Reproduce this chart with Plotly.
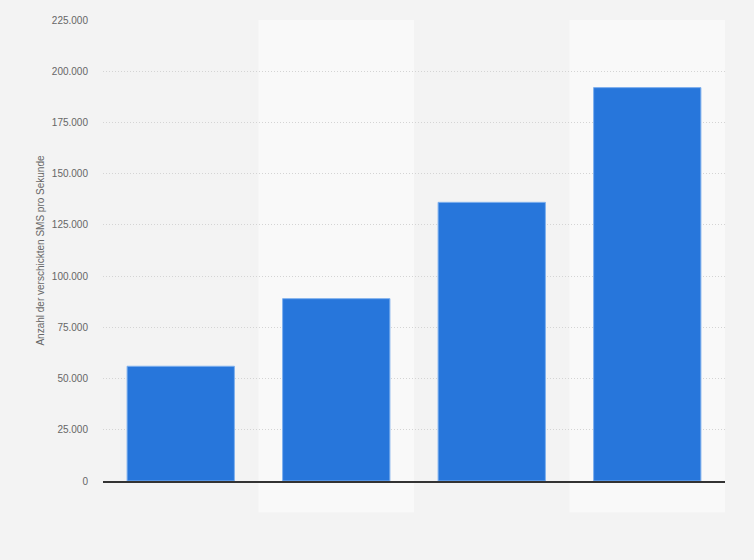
import plotly.graph_objects as go

categories = ["Kategorie 1", "Kategorie 2", "Kategorie 3", "Kategorie 4"]
values = [56000, 89000, 136000, 192000]
y_title = "Anzahl der verschickten SMS pro Sekunde"
tick_vals = [0, 25000, 50000, 75000, 100000, 125000, 150000, 175000, 200000, 225000]

fig = go.Figure()
fig.add_trace(go.Bar(
    x=categories, y=values,
    marker=dict(color="#2776db", line=dict(color="#7fb0ee", width=1)),
    hoverinfo="y",
))

shapes = []
for i, c in enumerate(categories):
    if i % 2 == 1:
        shapes.append(dict(type="rect", xref="x", yref="paper",
                           x0=i - 0.5, x1=i + 0.5, y0=-0.068, y1=1,
                           fillcolor="#f9f9f9", line=dict(width=0), layer="below"))

fig.update_layout(
    width=754, height=560,
    margin=dict(l=103, r=29, t=20, b=79),
    paper_bgcolor="#f3f3f3",
    plot_bgcolor="rgba(0,0,0,0)",
    font=dict(family="Liberation Sans, Arial, sans-serif", size=10, color="#666666"),
    separators=",.",
    bargap=0.31,
    showlegend=False,
    shapes=shapes,
    xaxis=dict(showticklabels=False, showgrid=False, zeroline=False,
               showline=True, linecolor="#333333", linewidth=1.5,
               range=[-0.5, len(categories) - 0.5], ticks=""),
    yaxis=dict(range=[0, 225000], tickvals=tick_vals, tickformat=",.0f",
               showgrid=True, gridcolor="#d4d4d4", griddash="1px,2px", gridwidth=1,
               zeroline=False, ticks="", ticklabelstandoff=14,
               title=dict(text=y_title, font=dict(size=10, color="#666666"), standoff=5)),
)

fig.write_html("out.html", config={"displayModeBar": False},
               post_script="document.body.style.margin='0';document.body.style.background='#f3f3f3';")
